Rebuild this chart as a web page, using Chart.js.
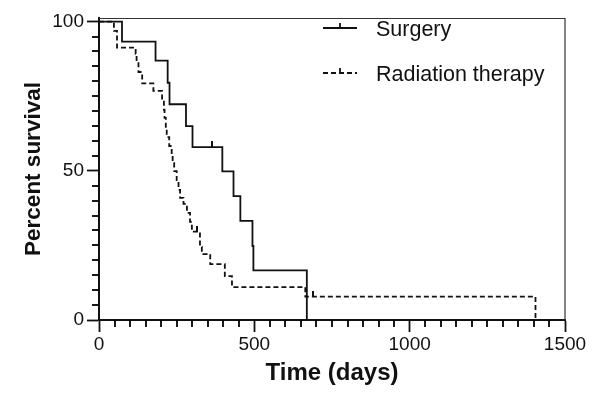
<!DOCTYPE html>
<html><head><meta charset="utf-8">
<script src="https://cdn.jsdelivr.net/npm/chart.js@4"></script>
<style>html,body{margin:0;padding:0;background:#fff}</style>
</head><body>
<canvas id="c" width="596" height="393"></canvas>
<script>
// ---- data ----
const surgeryLabel = 'Surgery';
const surgeryDays = [0, 74, 182, 221, 227, 280, 301, 397, 433, 455, 494, 497, 669];
const surgerySurvival = [100, 93.3, 86.9, 79.5, 72.3, 65.0, 57.9, 49.8, 41.5, 33.2, 24.8, 16.6, 0];
const surgeryCensorDays = [363];
const surgeryCensorSurvival = [57.9];

const radiationLabel = 'Radiation therapy';
const radiationDays = [0, 48, 58, 118, 121, 127, 139, 175, 203, 209, 211, 215, 218, 226, 234, 237, 242, 250, 256, 261, 272, 283, 293, 299, 325, 331, 358, 405, 428, 664, 1405];
const radiationSurvival = [100, 96.9, 91.3, 89.2, 86.5, 83.1, 79.3, 76.8, 73.8, 70.4, 67.7, 64.7, 61.3, 58.3, 55.3, 52.6, 49.9, 46.9, 43.6, 40.9, 38.9, 35.9, 32.9, 29.6, 24.5, 22.1, 18.7, 14.7, 11.0, 7.8, 0];
const radiationCensorDays = [315, 688];
const radiationCensorSurvival = [29.6, 7.8];

const xTicks = [0, 500, 1000, 1500];
const yTicks = [0, 50, 100];
const xMinorStep = 50;
const yMinorStep = 5;
const xTitle = 'Time (days)';
const yTitle = 'Percent survival';

// ---- helpers ----
const toPts = (xs, ys) => xs.map((x, i) => ({x: x, y: ys[i]}));
const FONT = 'Arial, "Liberation Sans", sans-serif';
const INK = '#111';

const censorMark = (() => {
  const c = document.createElement('canvas');
  c.width = 2; c.height = 12;
  const g = c.getContext('2d');
  g.fillStyle = INK;
  g.fillRect(0, 0, 2, 6);
  return c;
})();

const extrasPlugin = {
  id: 'extras',
  afterDraw(chart) {
    const ctx = chart.ctx;
    const a = chart.chartArea;
    const x = chart.scales.x, y = chart.scales.y;
    ctx.save();
    ctx.setLineDash([]);
    // frame top / right
    ctx.strokeStyle = '#333';
    ctx.lineWidth = 1.2;
    ctx.beginPath();
    ctx.moveTo(a.left, a.top + 0.5);
    ctx.lineTo(a.right, a.top + 0.5);
    ctx.lineTo(a.right, a.bottom);
    ctx.stroke();
    // minor ticks
    ctx.strokeStyle = '#000';
    ctx.lineWidth = 1.8;
    for (let v = xMinorStep; v < 1500; v += xMinorStep) {
      if (xTicks.indexOf(v) >= 0) continue;
      const px = Math.round(x.getPixelForValue(v));
      ctx.beginPath();
      ctx.moveTo(px, a.bottom);
      ctx.lineTo(px, a.bottom + 7);
      ctx.stroke();
    }
    for (let v = yMinorStep; v < 100; v += yMinorStep) {
      if (yTicks.indexOf(v) >= 0) continue;
      const py = Math.round(y.getPixelForValue(v));
      ctx.beginPath();
      ctx.moveTo(a.left, py);
      ctx.lineTo(a.left - 7, py);
      ctx.stroke();
    }
    // legend
    const items = chart.data.datasets.filter(d => d.legend);
    items.forEach((d, i) => {
      const ly = 28 + i * 45;
      ctx.strokeStyle = INK;
      ctx.lineWidth = 1.8;
      ctx.setLineDash(d.borderDash || []);
      ctx.beginPath();
      ctx.moveTo(323, ly);
      ctx.lineTo(357, ly);
      ctx.stroke();
      ctx.setLineDash([]);
      ctx.beginPath();
      ctx.moveTo(340, ly);
      ctx.lineTo(340, ly - 5);
      ctx.stroke();
      ctx.fillStyle = INK;
      ctx.font = '21.5px ' + FONT;
      ctx.textBaseline = 'alphabetic';
      ctx.textAlign = 'left';
      ctx.fillText(d.label, 376, ly + 8);
    });
    ctx.restore();
  }
};

new Chart(document.getElementById('c'), {
  type: 'line',
  data: {
    datasets: [
      {label: surgeryLabel, legend: true, data: toPts(surgeryDays, surgerySurvival), stepped: 'before',
       borderColor: INK, borderWidth: 1.8, pointRadius: 0, fill: false},
      {label: radiationLabel, legend: true, data: toPts(radiationDays, radiationSurvival), stepped: 'before',
       borderColor: INK, borderWidth: 1.8, borderDash: [5, 3], pointRadius: 0, fill: false},
      {label: surgeryLabel + ' censored', type: 'scatter', data: toPts(surgeryCensorDays, surgeryCensorSurvival),
       pointStyle: censorMark, pointRadius: 6, showLine: false},
      {label: radiationLabel + ' censored', type: 'scatter', data: toPts(radiationCensorDays, radiationCensorSurvival),
       pointStyle: censorMark, pointRadius: 6, showLine: false}
    ]
  },
  options: {
    responsive: false,
    animation: false,
    events: [],
    layout: {padding: {top: 18, right: 31, left: 0, bottom: 0}},
    plugins: {legend: {display: false}, tooltip: {enabled: false}},
    scales: {
      x: {
        type: 'linear', min: 0, max: 1500,
        afterBuildTicks: s => { s.ticks = xTicks.map(v => ({value: v})); },
        afterFit: s => { s.height = 73; },
        grid: {display: true, drawOnChartArea: false, drawTicks: true, tickLength: 12, tickColor: INK, tickWidth: 1.8},
        border: {display: true, color: INK, width: 2},
        ticks: {color: INK, font: {family: FONT, size: 19}, padding: 1, maxRotation: 0, autoSkip: false,
                callback: v => String(v)},
        title: {display: true, text: xTitle, color: INK, font: {family: FONT, size: 24, weight: 'bold', lineHeight: 1}, padding: {top: 0, bottom: 8}}
      },
      y: {
        type: 'linear', min: 0, max: 101.2,
        afterBuildTicks: s => { s.ticks = yTicks.map(v => ({value: v})); },
        afterFit: s => { s.width = 99; },
        grid: {display: true, drawOnChartArea: false, drawTicks: true, tickLength: 12, tickColor: INK, tickWidth: 1.8},
        border: {display: true, color: INK, width: 2},
        ticks: {color: INK, font: {family: FONT, size: 19}, padding: 3, autoSkip: false,
                callback: v => String(v)},
        title: {display: true, text: yTitle, color: INK, font: {family: FONT, size: 22.5, weight: 'bold', lineHeight: 1}, padding: {top: 23, bottom: 0}}
      }
    }
  },
  plugins: [extrasPlugin]
});
</script>
</body></html>
